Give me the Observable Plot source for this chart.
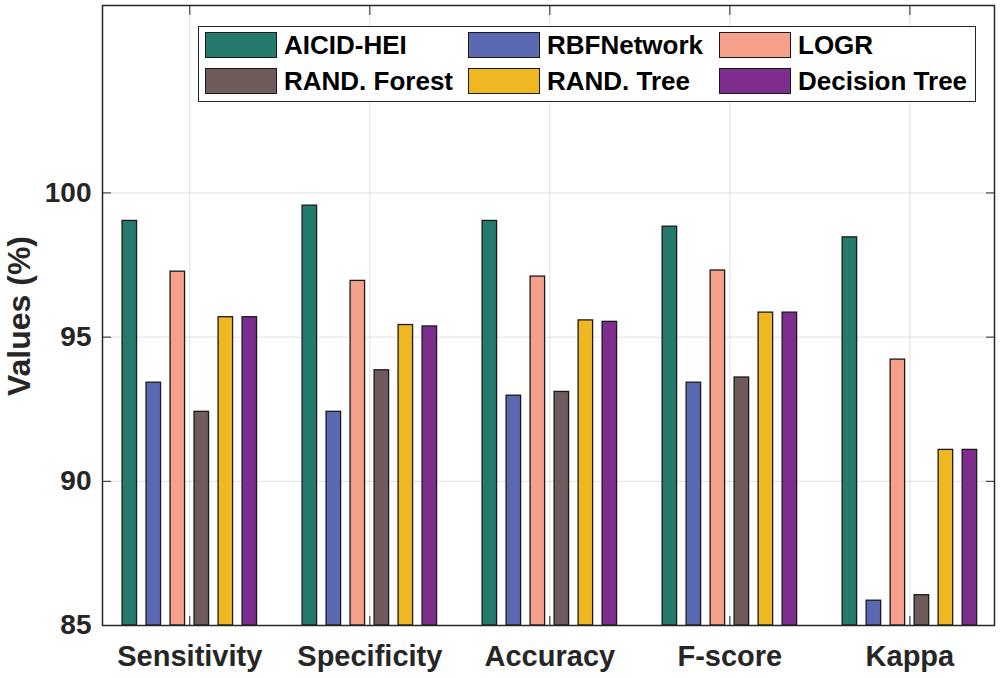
<!DOCTYPE html>
<html><head><meta charset="utf-8">
<script src="https://cdn.jsdelivr.net/npm/d3@7"></script>
<script src="https://cdn.jsdelivr.net/npm/@observablehq/plot@0.6"></script>
<style>
body{margin:0;background:#fff;}
#wrap{position:relative;width:1000px;height:678px;font-family:"Liberation Sans",Arial,Helvetica,sans-serif;}
#legend{position:absolute;left:198px;top:26px;width:778px;height:76px;border:1.5px solid #262626;background:#fff;box-sizing:border-box;}
.item{position:absolute;height:26px;display:flex;align-items:center;font-weight:bold;font-size:26px;color:#000;white-space:nowrap;}
.sw{width:72px;height:26px;box-sizing:border-box;border:1.3px solid #1a1a1a;margin-right:7px;flex:none;}
</style></head><body><div id="wrap"><div id="legend"></div></div>
<script>
const categories = ["Sensitivity", "Specificity", "Accuracy", "F-score", "Kappa"];
const series = ["AICID-HEI", "RBFNetwork", "LOGR", "RAND. Forest", "RAND. Tree", "Decision Tree"];
const colors = ["#247A6C", "#5B69B3", "#F4A08B", "#6F5A5C", "#EFB822", "#7E2D8E"];
const aicid    = [99.03, 99.56, 99.03, 98.83, 98.46];
const rbf      = [93.42, 92.41, 92.97, 93.42, 85.86];
const logr     = [97.27, 96.95, 97.10, 97.31, 94.22];
const forest   = [92.41, 93.85, 93.10, 93.60, 86.05];
const randTree = [95.69, 95.42, 95.58, 95.85, 91.09];
const dtree    = [95.69, 95.37, 95.53, 95.85, 91.09];
const yTicks = [85, 90, 95, 100];
const xTicks = [1, 2, 3, 4, 5];

const seriesValues = [aicid, rbf, logr, forest, randTree, dtree];
const data = [];
seriesValues.forEach((vals, si) => vals.forEach((v, ci) =>
  data.push({category: categories[ci], series: series[si], ci, si, value: v})));

const step = 24 / 180, bw = 14.5 / 180;
const font = '"Liberation Sans", Arial, Helvetica, sans-serif';
const chart = Plot.plot({
  width: 1000, height: 678,
  marginLeft: 102, marginRight: 6, marginTop: 5, marginBottom: 53,
  style: {fontFamily: font, fontSize: "28px", fontWeight: "bold", color: "#262626", background: "#fff"},
  x: {domain: [0.515, 5.47]},
  y: {domain: [85, 106.5]},
  color: {domain: series, range: colors},
  marks: [
    Plot.gridY(yTicks, {stroke: "#000", strokeOpacity: 0.12, strokeWidth: 1}),
    Plot.gridX(xTicks, {stroke: "#000", strokeOpacity: 0.12, strokeWidth: 1}),
    Plot.rect(data, {
      x1: d => d.ci + 1 + (d.si - 2.5) * step - bw / 2,
      x2: d => d.ci + 1 + (d.si - 2.5) * step + bw / 2,
      y1: 85, y2: "value", fill: "series", stroke: "#1a1a1a", strokeWidth: 1.3
    }),
    Plot.frame({stroke: "#262626", strokeWidth: 1.5}),
    Plot.axisX(xTicks, {tickFormat: i => categories[i - 1], tickSize: 0, tickPadding: 20, fill: "#262626", fontSize: 29, label: null}),
    Plot.axisX(xTicks, {tickSize: -9, tickFormat: () => "", stroke: "#262626", label: null}),
    Plot.axisX(xTicks, {anchor: "top", tickSize: -9, tickFormat: () => "", stroke: "#262626", label: null}),
    Plot.axisY(yTicks, {tickSize: 0, tickPadding: 11, fill: "#262626", label: null}),
    Plot.axisY(yTicks, {tickSize: -9, tickFormat: () => "", stroke: "#262626", label: null}),
    Plot.axisY(yTicks, {anchor: "right", tickSize: -9, tickFormat: () => "", stroke: "#262626", label: null})
  ]
});
d3.select(chart).append("text")
  .attr("transform", "translate(30,316) rotate(-90)")
  .attr("text-anchor", "middle")
  .attr("font-size", 32).attr("font-weight", "bold").attr("fill", "#262626")
  .attr("font-family", font)
  .text("Values (%)");
const wrap = document.getElementById("wrap");
wrap.insertBefore(chart, wrap.firstChild);

const legend = document.getElementById("legend");
const colLeft = [6, 269, 520], rowTop = [5, 41];
series.forEach((s, i) => {
  const item = document.createElement("div");
  item.className = "item";
  item.style.left = colLeft[i % 3] + "px";
  item.style.top = rowTop[Math.floor(i / 3)] + "px";
  const sw = document.createElement("div");
  sw.className = "sw";
  sw.style.background = colors[i];
  const t = document.createElement("span");
  t.textContent = s;
  item.appendChild(sw); item.appendChild(t);
  legend.appendChild(item);
});
</script></body></html>
